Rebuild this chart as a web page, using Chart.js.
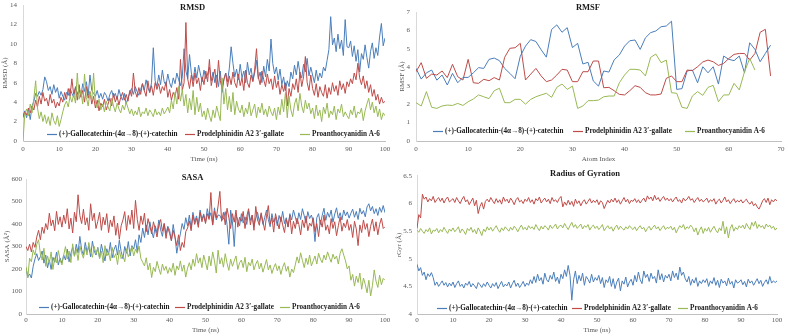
<!DOCTYPE html>
<html>
<head>
<meta charset="utf-8">
<script src="https://cdn.jsdelivr.net/npm/chart.js@4.4.1/dist/chart.umd.min.js"></script>
<style>
  body { margin: 0; background: #fff; width: 789px; height: 336px; overflow: hidden; position: relative; }
  canvas { position: absolute; }
</style>
</head>
<body>
<canvas id="rmsd" width="395" height="168" style="left:0;top:0"></canvas>
<canvas id="rmsf" width="394" height="168" style="left:395px;top:0"></canvas>
<canvas id="sasa" width="395" height="168" style="left:0;top:168px"></canvas>
<canvas id="rgyr" width="396" height="168" style="left:393px;top:168px"></canvas>
<script>
// sampling grids (0-100 ns every 0.5 ns, atoms 0..68)
const timeNs = Array.from({ length: 201 }, (_, i) => i / 2);
const atomIndex = Array.from({ length: 69 }, (_, i) => i);

const seriesNames = [
    "(+)-Gallocatechin-(4α→8)-(+)-catechin",
    "Prodelphinidin A2 3′-gallate",
    "Proanthocyanidin A-6"
];
const seriesColors = ["#4A7EBB", "#BE4B48", "#98B954"];

// RMSD (Å)
const rmsdGallo = [
    2.6, 3.1, 2.4, 3.3, 2.2, 3.6, 4.1, 4.9, 4.6, 5.1, 4.7, 5.3, 6.6, 6.1, 5.2, 5.6, 4.8, 5.8, 5.0, 5.5,
    4.4, 5.1, 4.6, 4.2, 5.0, 4.7, 5.4, 4.9, 4.5, 5.6, 4.8, 5.3, 4.6, 5.9, 5.1, 6.1, 4.7, 6.8, 5.2, 4.9,
    4.6, 5.2, 4.4, 4.9, 4.3, 5.0, 4.7, 4.1, 4.8, 5.2, 4.5, 4.9, 4.3, 5.3, 4.6, 4.2, 4.9, 3.8, 4.4, 5.0,
    5.4, 4.8, 5.6, 5.1, 4.7, 5.3, 5.9, 5.2, 6.3, 5.5, 5.0, 6.0, 9.6, 6.2, 5.6, 6.8, 5.8, 7.3, 6.1, 5.7,
    6.9, 6.0, 5.5, 6.5, 5.9, 7.0, 6.3, 5.7, 6.6, 9.5, 7.2, 6.4, 8.9, 7.0, 6.2, 7.6, 6.5, 7.8, 6.9, 6.1,
    7.3, 6.4, 6.9, 7.6, 6.2, 7.1, 6.0, 6.8, 5.6, 7.2, 5.0, 6.4, 7.0, 6.1, 7.5, 9.7, 8.0, 6.6, 7.4, 6.3,
    7.9, 6.5, 7.2, 6.0, 8.1, 6.8, 7.5, 6.2, 7.0, 8.3, 6.4, 7.1, 6.0, 7.7, 6.6, 8.4, 7.2, 10.5, 8.0, 6.9,
    7.6, 6.3, 7.4, 5.8, 6.6, 5.2, 6.2, 5.6, 7.1, 6.4, 7.8, 6.8, 8.2, 7.0, 6.5, 7.9, 7.1, 8.5, 6.7, 7.6,
    6.8, 6.0, 7.3, 6.2, 7.0, 6.5, 7.6, 7.2, 8.3, 9.4, 12.8, 9.9, 10.6, 9.2, 11.0, 9.5, 10.4, 8.8, 12.5, 9.7,
    9.6, 10.3, 8.7, 9.8, 8.2, 9.4, 7.1, 9.0, 8.4, 9.9, 8.6, 7.5, 9.2, 10.1, 8.5, 9.6, 8.8, 10.7, 12.1, 9.8,
    10.6
];
const rmsdProdel = [
    2.4, 3.0, 2.7, 3.4, 2.9, 3.6, 3.2, 4.2, 3.5, 4.6, 3.8, 5.0, 4.1, 4.4, 3.6, 4.8, 3.9, 4.3, 3.4, 4.0,
    3.6, 4.5, 4.0, 5.0, 4.3, 5.4, 4.6, 6.4, 4.8, 5.5, 4.2, 5.8, 4.5, 5.2, 4.0, 5.6, 4.4, 5.1, 3.8, 4.6,
    3.4, 4.2, 3.1, 3.9, 3.5, 4.3, 3.2, 3.8, 4.4, 3.6, 4.9, 4.0, 4.6, 3.7, 4.5, 5.0, 4.2, 4.8, 4.1, 5.2,
    4.6, 7.0, 5.1, 4.5, 5.5, 4.8, 5.9, 5.2, 4.6, 6.2, 5.0, 5.7, 4.7, 6.0, 5.3, 5.9, 4.9, 5.6, 5.2, 6.1,
    4.5, 5.3, 4.2, 5.0, 4.6, 5.5, 4.3, 8.4, 5.2, 6.0, 12.2, 6.4, 5.4, 6.8, 5.6, 7.0, 5.9, 6.5, 5.2, 6.6,
    5.8, 7.2, 6.1, 8.4, 5.7, 6.6, 7.4, 5.5, 8.3, 6.2, 5.4, 6.3, 7.0, 5.6, 6.7, 5.8, 7.1, 6.0, 5.5, 6.9,
    5.7, 6.5, 5.2, 7.3, 6.0, 5.5, 6.8, 6.1, 7.4, 9.5, 6.6, 5.8, 7.2, 6.3, 5.6, 6.9, 5.9, 6.4, 5.3, 6.7,
    5.5, 6.2, 4.8, 5.8, 5.1, 6.0, 3.6, 5.4, 4.6, 5.9, 5.3, 6.4, 5.0, 7.1, 5.6, 6.6, 8.7, 6.0, 5.2, 6.8,
    5.4, 4.7, 5.9, 4.5, 5.6, 5.0, 4.6, 5.8, 4.4, 5.5, 4.8, 6.0, 5.1, 5.7, 4.7, 6.2, 5.3, 5.9, 4.9, 6.1,
    5.6, 6.4, 5.9, 7.0, 6.3, 8.0, 6.5, 5.8, 6.7, 5.4, 6.2, 5.0, 5.8, 4.6, 5.3, 4.2, 4.8, 3.8, 4.5, 3.9,
    4.1
];
const rmsdProanth = [
    0.0, 2.8, 3.3, 2.6, 3.8, 2.9, 4.4, 6.2, 3.4, 2.3, 3.0, 2.0, 2.7, 1.8, 2.5, 1.6, 2.9, 2.1, 1.7, 2.6,
    1.5, 2.2, 3.0, 3.7, 4.1, 3.5, 4.6, 4.0, 4.8, 3.9, 7.0, 4.3, 5.2, 3.8, 6.9, 4.5, 3.6, 5.0, 4.2, 7.0,
    4.0, 3.4, 4.3, 3.2, 3.8, 3.0, 4.1, 3.5, 3.1, 4.4, 3.6, 3.0, 3.9, 3.3, 2.9, 3.7, 3.2, 4.0, 3.4, 2.8,
    3.3, 2.6, 3.1, 2.7, 3.5, 2.5, 3.0, 2.8, 3.4, 2.6, 3.2, 2.9, 2.5, 3.3, 2.7, 3.0, 2.6, 3.4, 2.8, 3.1,
    3.5, 2.9, 4.2, 3.3, 5.0, 3.8, 5.6, 4.1, 5.3, 3.6, 4.8, 2.9, 4.4, 3.2, 5.2, 2.7, 4.5, 3.0, 3.9, 2.5,
    3.1, 2.2, 3.4, 2.6, 2.0, 3.2, 2.4, 3.6, 2.8, 2.1, 6.5, 3.8, 5.4, 3.2, 4.6, 3.0, 5.0, 2.7, 4.1, 3.3,
    2.9, 3.7, 2.5, 3.4, 2.8, 4.0, 2.6, 3.2, 3.8, 2.4, 3.5, 2.9, 3.9, 2.7, 3.3, 2.5, 3.6, 3.0, 2.6, 3.4,
    2.2, 3.5, 2.7, 4.3, 3.0, 5.0, 2.4, 4.6, 3.2, 2.5, 3.8, 4.4, 3.1, 4.9, 3.6, 2.9, 4.2, 3.3, 3.9, 2.8,
    3.4, 2.3, 3.7, 2.6, 3.2, 2.0, 3.5, 2.8, 3.9, 2.4, 3.1, 2.7, 3.6, 2.2, 3.3, 2.9, 3.8, 2.5, 3.0, 2.6,
    2.3, 3.2, 2.7, 3.6, 2.4, 3.0, 2.8, 3.4, 2.1, 3.1, 3.8, 4.4, 3.2, 4.0, 2.9, 3.6, 2.5, 3.3, 2.2, 2.9,
    2.6
];

// RMSF (Å) per atom
const rmsfGallo = [
    3.94, 3.36, 3.70, 3.85, 3.30, 3.58, 3.04, 3.67, 3.16, 3.45, 3.45, 3.70, 3.98, 3.94, 4.43, 4.50, 4.36,
    3.94, 3.67, 3.38, 4.60, 5.15, 5.50, 5.40, 4.95, 4.55, 6.05, 6.30, 5.90, 6.15, 5.07, 5.30, 4.18, 4.27,
    3.26, 2.98, 3.80, 3.74, 4.40, 4.67, 5.15, 5.44, 5.48, 4.97, 5.60, 5.88, 5.97, 6.20, 6.24, 6.50, 2.80,
    2.84, 3.80, 3.85, 3.16, 4.03, 3.70, 4.03, 3.09, 4.61, 4.43, 4.36, 4.61, 3.70, 5.33, 4.97, 4.30, 4.75,
    5.20
];
const rmsfProdel = [
    3.76, 4.25, 3.40, 3.63, 3.58, 3.80, 3.44, 4.16, 3.49, 3.31, 4.43, 3.16, 3.13, 3.35, 3.27, 3.44, 3.31,
    4.54, 5.03, 5.06, 5.30, 3.31, 3.63, 3.94, 3.53, 3.22, 3.31, 3.58, 3.89, 3.85, 3.22, 3.22, 3.76, 3.76,
    4.34, 4.34, 2.89, 2.91, 2.73, 2.53, 2.50, 2.73, 3.00, 2.91, 2.62, 2.50, 2.50, 2.55, 3.40, 3.53, 3.22,
    3.22, 3.85, 3.82, 4.03, 4.29, 4.39, 4.30, 4.10, 4.21, 4.48, 4.70, 4.75, 4.75, 4.39, 4.75, 5.90, 6.06,
    3.53
];
const rmsfProanth = [
    2.08, 1.90, 2.68, 1.83, 1.77, 1.90, 1.95, 1.93, 2.04, 1.93, 2.13, 2.28, 2.50, 2.40, 2.30, 2.73, 2.86,
    2.08, 2.08, 2.26, 2.26, 2.00, 2.26, 2.40, 2.50, 2.59, 2.37, 2.91, 3.09, 2.80, 2.98, 1.77, 1.90, 2.19,
    2.19, 2.22, 2.40, 2.44, 2.44, 3.16, 3.58, 3.89, 3.89, 3.85, 3.53, 4.54, 4.72, 4.25, 4.39, 2.62, 2.59,
    1.83, 1.77, 2.44, 2.68, 2.48, 2.91, 3.02, 2.13, 2.50, 2.50, 3.13, 2.77, 3.76, 4.48, 3.85
];

// SASA (Å²)
const sasaGallo = [
    205, 165, 178, 160, 212, 245, 268, 238, 255, 280, 226, 262, 205, 240, 198, 252, 230, 275, 218, 248,
    226, 262, 240, 288, 232, 270, 296, 258, 310, 272, 345, 285, 262, 318, 276, 300, 254, 324, 280, 262,
    296, 248, 310, 272, 236, 290, 264, 318, 250, 286, 306, 262, 328, 278, 246, 300, 270, 322, 258, 304,
    288, 330, 276, 352, 318, 382, 340, 396, 352, 410, 368, 338, 392, 360, 418, 374, 345, 402, 356, 390,
    372, 326, 398, 345, 270, 318, 356, 402, 376, 428, 392, 440, 380, 452, 410, 436, 398, 462, 420, 445,
    408, 468, 426, 450, 395, 472, 418, 440, 438, 420, 422, 455, 398, 310, 462, 410, 300, 440, 418, 392,
    446, 404, 432, 398, 458, 416, 438, 388, 426, 452, 410, 444, 398, 430, 462, 420, 388, 446, 408, 430,
    392, 438, 410, 456, 402, 428, 386, 446, 418, 462, 432, 400, 450, 420, 468, 436, 404, 455, 424, 440,
    410, 322, 428, 446, 398, 438, 470, 416, 452, 430, 462, 408, 444, 472, 426, 450, 418, 462, 436, 454,
    426, 448, 466, 430, 456, 420, 470, 444, 460, 432, 476, 490, 458, 478, 446, 468, 438, 474, 452, 482,
    450
];
const sasaProdel = [
    300, 282, 310, 276, 318, 296, 342, 372, 330, 386, 358, 402, 375, 448, 392, 418, 370, 456, 398, 432,
    386, 440, 402, 468, 378, 426, 360, 452, 410, 530, 438, 402, 466, 396, 428, 372, 490, 415, 448, 380,
    412, 452, 372, 430, 396, 446, 362, 418, 388, 436, 350, 404, 332, 392, 418, 455, 372, 438, 398, 462,
    380, 505, 420, 372, 436, 398, 448, 366, 424, 390, 356, 410, 378, 342, 396, 420, 368, 402, 336, 384,
    358, 326, 372, 340, 304, 352, 282, 318, 296, 366, 382, 414, 370, 440, 398, 426, 385, 452, 410, 438,
    402, 446, 420, 540, 396, 458, 426, 480, 545, 412, 452, 396, 470, 428, 380, 446, 408, 462, 386, 430,
    412, 456, 380, 434, 468, 396, 440, 372, 478, 418, 394, 450, 408, 372, 436, 482, 400, 428, 364, 446,
    410, 378, 432, 396, 362, 420, 388, 440, 356, 412, 380, 426, 398, 352, 418, 384, 436, 370, 404, 390,
    428, 366, 402, 344, 418, 386, 440, 372, 396, 356, 424, 380, 410, 348, 392, 432, 368, 404, 384, 420,
    372, 398, 340, 412, 378, 304, 396, 362, 418, 376, 402, 344, 390, 422, 368, 410, 352, 398, 426, 380,
    388
];
const sasaProanth = [
    210, 160, 248, 232, 285, 262, 310, 330, 268, 240, 292, 212, 258, 226, 276, 198, 250, 228, 282, 240,
    218, 262, 300, 244, 280, 228, 312, 256, 290, 238, 302, 270, 248, 296, 262, 318, 276, 252, 300, 268,
    292, 246, 280, 228, 304, 258, 272, 236, 296, 250, 268, 220, 284, 246, 262, 232, 290, 254, 276, 300,
    258, 288, 270, 302, 246, 230, 214, 250, 196, 226, 162, 208, 188, 234, 202, 176, 222, 194, 212, 180,
    206, 186, 226, 172, 214, 196, 236, 190, 218, 164, 204, 228, 196, 244, 212, 268, 226, 250, 206, 262,
    230, 196, 258, 214, 276, 236, 182, 284, 222, 250, 208, 268, 226, 194, 244, 212, 236, 258, 198, 228,
    240, 206, 252, 188, 230, 214, 244, 196, 222, 238, 200, 226, 186, 214, 242, 196, 218, 180, 206, 224,
    192, 214, 176, 208, 228, 190, 212, 164, 200, 184, 218, 254, 226, 272, 238, 206, 248, 220, 262, 214,
    236, 258, 222, 270, 244, 228, 262, 240, 276, 252, 230, 266, 244, 258, 222, 270, 290, 262, 236, 200,
    214, 150, 176, 124, 168, 140, 182, 110, 160, 132, 94, 150, 80, 126, 196, 146, 118, 172, 130, 158,
    150
];

// Radius of gyration (Å)
const rgyrGallo = [
    4.90, 4.78, 4.84, 4.70, 4.76, 4.62, 4.73, 4.68, 4.75, 4.66, 4.52, 4.58, 4.50, 4.55, 4.60, 4.52, 4.57, 4.49, 4.56, 4.51,
    4.58, 4.48, 4.55, 4.60, 4.50, 4.54, 4.47, 4.56, 4.52, 4.59, 4.49, 4.55, 4.51, 4.46, 4.57, 4.53, 4.48, 4.55, 4.50, 4.58,
    4.52, 4.47, 4.55, 4.50, 4.57, 4.46, 4.53, 4.59, 4.49, 4.54, 4.51, 4.58, 4.47, 4.55, 4.61, 4.50, 4.56, 4.48, 4.53, 4.59,
    4.50, 4.56, 4.52, 4.62, 4.55, 4.68, 4.57, 4.72, 4.60, 4.66, 4.54, 4.74, 4.62, 4.58, 4.70, 4.63, 4.76, 4.59, 4.67, 4.55,
    4.72, 4.64, 4.80, 4.68, 4.88, 4.70, 4.25, 4.62, 4.78, 4.55, 4.70, 4.60, 4.74, 4.52, 4.68, 4.63, 4.56, 4.72, 4.58, 4.66,
    4.61, 4.70, 4.55, 4.66, 4.48, 4.62, 4.57, 4.68, 4.50, 4.64, 4.46, 4.58, 4.65, 4.42, 4.60, 4.54, 4.67, 4.49, 4.58, 4.63,
    4.52, 4.70, 4.58, 4.76, 4.62, 4.55, 4.78, 4.66, 4.72, 4.59, 4.74, 4.64, 4.68, 4.56, 4.80, 4.62, 4.73, 4.58, 4.70, 4.65,
    4.72, 4.60, 4.78, 4.66, 4.74, 4.62, 4.85, 4.70, 4.76, 4.64, 4.58, 4.68, 4.52, 4.63, 4.56, 4.66, 4.50, 4.60, 4.55, 4.62,
    4.57, 4.64, 4.50, 4.60, 4.55, 4.66, 4.52, 4.61, 4.48, 4.63, 4.56, 4.60, 4.51, 4.65, 4.54, 4.59, 4.47, 4.62, 4.56, 4.58,
    4.62, 4.53, 4.59, 4.49, 4.63, 4.56, 4.60, 4.52, 4.58, 4.64, 4.55, 4.61, 4.50, 4.57, 4.62, 4.54, 4.68, 4.56, 4.60, 4.57,
    4.60
];
const rgyrProdel = [
    5.55, 5.80, 5.74, 6.17, 6.08, 6.12, 6.03, 6.09, 6.05, 6.13, 6.02, 6.07, 6.11, 6.04, 6.10, 6.01, 6.08, 6.12, 6.03, 6.06,
    6.09, 6.02, 6.11, 6.05, 6.00, 6.08, 6.13, 6.03, 6.07, 5.98, 6.04, 6.10, 5.96, 6.06, 5.82, 5.95, 6.02, 5.90, 6.04, 6.08,
    6.03, 6.11, 6.05, 6.00, 6.09, 6.02, 6.07, 5.99, 6.12, 6.04, 6.08, 6.01, 6.10, 6.05, 5.98, 6.07, 6.11, 6.03, 6.06, 6.00,
    6.08, 6.04, 6.11, 6.02, 6.07, 5.99, 6.09, 6.05, 6.12, 6.01, 6.06, 6.10, 6.03, 6.08, 6.00, 6.11, 6.04, 6.07, 6.02, 6.09,
    6.13, 5.94, 6.03, 5.97, 6.06, 5.98, 6.04, 5.95, 6.08, 6.00, 6.05, 5.96, 6.03, 6.07, 5.99, 6.04, 6.09, 6.01, 6.06, 6.02,
    6.07, 5.98, 6.05, 6.02, 5.91, 5.99, 6.06, 6.01, 6.08, 6.03, 6.10, 6.02, 6.07, 5.99, 6.05, 6.11, 6.03, 6.08, 6.00, 6.06,
    6.04, 6.09, 6.02, 6.07, 6.01, 6.06, 6.10, 6.03, 6.14, 6.08, 6.12, 6.05, 6.15, 6.07, 6.11, 6.04, 6.09, 6.13, 6.06, 6.10,
    6.05, 6.09, 6.03, 6.08, 6.12, 6.04, 6.07, 6.01, 6.10, 6.05, 6.08, 6.13, 6.06, 6.09, 6.02, 6.07, 6.11, 6.04, 6.08, 6.03,
    6.06, 6.10, 6.02, 6.07, 6.04, 6.09, 5.99, 6.05, 6.08, 6.01, 6.06, 6.12, 6.03, 6.07, 6.00, 6.05, 6.09, 6.02, 6.06, 6.03,
    6.07, 6.01, 6.05, 6.08, 6.02, 5.99, 6.04, 5.96, 6.00, 5.94, 5.90, 5.97, 6.05, 6.09, 6.02, 6.10, 5.98, 6.07, 6.03, 6.08,
    6.05
];
const rgyrProanth = [
    5.52, 5.48, 5.55, 5.50, 5.46, 5.53, 5.49, 5.56, 5.45, 5.52, 5.50, 5.55, 5.47, 5.53, 5.49, 5.57, 5.51, 5.46, 5.54, 5.50,
    5.56, 5.49, 5.53, 5.58, 5.47, 5.54, 5.50, 5.44, 5.55, 5.51, 5.57, 5.48, 5.53, 5.45, 5.56, 5.50, 5.42, 5.54, 5.49, 5.58,
    5.52, 5.57, 5.50, 5.55, 5.60, 5.53, 5.48, 5.56, 5.51, 5.58, 5.54, 5.50, 5.57, 5.52, 5.59, 5.55, 5.49, 5.56, 5.61, 5.53,
    5.57, 5.52, 5.60, 5.55, 5.58, 5.53, 5.62, 5.56, 5.51, 5.59, 5.54, 5.60, 5.57, 5.52, 5.61, 5.55, 5.58, 5.63, 5.54, 5.59,
    5.61, 5.56, 5.64, 5.58, 5.53, 5.60, 5.66, 5.57, 5.62, 5.55, 5.59, 5.63, 5.54, 5.60, 5.57, 5.62, 5.52, 5.58, 5.61, 5.55,
    5.59, 5.53, 5.57, 5.62, 5.51, 5.56, 5.60, 5.54, 5.58, 5.50, 5.57, 5.61, 5.53, 5.59, 5.55, 5.52, 5.58, 5.54, 5.60, 5.56,
    5.53, 5.58, 5.51, 5.56, 5.60, 5.54, 5.57, 5.49, 5.55, 5.59, 5.52, 5.57, 5.61, 5.54, 5.58, 5.51, 5.56, 5.60, 5.53, 5.57,
    5.55, 5.59, 5.52, 5.57, 5.47, 5.54, 5.60, 5.56, 5.62, 5.53, 5.58, 5.55, 5.61, 5.57, 5.49, 5.56, 5.43, 5.52, 5.58, 5.46,
    5.55, 5.50, 5.57, 5.48, 5.54, 5.59, 5.52, 5.47, 5.56, 5.51, 5.68, 5.45, 5.58, 5.38, 5.55, 5.62, 5.50, 5.57, 5.53, 5.60,
    5.56, 5.61, 5.54, 5.64, 5.58, 5.53, 5.66, 5.59, 5.68, 5.55, 5.62, 5.57, 5.60, 5.54, 5.63, 5.58, 5.61, 5.55, 5.59, 5.52,
    5.56
];

const SERIF = '"Liberation Serif", "Times New Roman", serif';
const TICK_GREY = "#595959";

// legend drawn inside the plot area, Excel style
const innerLegend = {
    id: "innerLegend",
    afterDatasetsDraw(chart, args, opts) {
        if (!opts.x) return;
        const ctx = chart.ctx;
        ctx.save();
        ctx.font = `bold ${opts.size || 7.2}px ${SERIF}`;
        ctx.textBaseline = "middle";
        ctx.textAlign = "left";
        chart.data.datasets.forEach((ds, i) => {
            const x = opts.x[i];
            ctx.strokeStyle = ds.borderColor;
            ctx.lineWidth = 1.2;
            ctx.beginPath();
            ctx.moveTo(x, opts.y + 0.5);
            ctx.lineTo(x + 10, opts.y + 0.5);
            ctx.stroke();
            ctx.fillStyle = "#1a1a1a";
            ctx.fillText(ds.label, x + 12, opts.y);
        });
        ctx.restore();
    }
};
Chart.register(innerLegend);

function toPoints(xs, ys) {
    return ys.map((v, i) => ({ x: xs[i], y: v }));
}

// Excel shows 4, 4.5, 5 ... not 4.0, 5.0
const plainTick = v => String(Number(v.toFixed(2)));

function makePanel(id, p) {
    return new Chart(document.getElementById(id), {
        type: "line",
        data: {
            datasets: p.series.map((ys, i) => ({
                label: seriesNames[i],
                data: toPoints(p.xs, ys),
                borderColor: seriesColors[i],
                backgroundColor: seriesColors[i],
                borderWidth: 1,
                pointRadius: 0,
                tension: 0,
                fill: false,
                order: 2 - i
            }))
        },
        options: {
            responsive: false,
            animation: false,
            devicePixelRatio: 1,
            layout: { padding: { left: 0, top: 0, right: p.padRight, bottom: 0 } },
            plugins: {
                legend: { display: false },
                tooltip: { enabled: false },
                title: {
                    display: true,
                    text: p.title,
                    color: "#1a1a1a",
                    font: { family: SERIF, size: 8.5, weight: "bold" },
                    padding: p.titlePad
                },
                innerLegend: { x: p.legendX, y: p.legendY }
            },
            scales: {
                x: {
                    type: "linear",
                    min: p.xMin, max: p.xMax,
                    grid: { display: false, drawTicks: false },
                    border: { display: true, color: "#bfbfbf" },
                    ticks: {
                        stepSize: 10, color: TICK_GREY, padding: p.xTickPad,
                        maxRotation: 0, autoSkip: false,
                        font: { family: SERIF, size: 7 },
                        callback: plainTick
                    },
                    title: {
                        display: true, text: p.xTitle, color: TICK_GREY,
                        font: { family: SERIF, size: 7 },
                        padding: { top: 0, bottom: p.xTitlePad }
                    },
                    afterFit: s => {
                        s.height = p.xAxisH;
                        s.paddingLeft = 0;
                        s.paddingRight = 0;
                    }
                },
                y: {
                    min: p.yMin, max: p.yMax,
                    grid: { display: false, drawTicks: false },
                    border: { display: true, color: "#d9d9d9" },
                    ticks: {
                        stepSize: p.yStep, color: TICK_GREY, padding: p.yTickPad,
                        font: { family: SERIF, size: 7 },
                        callback: plainTick
                    },
                    title: {
                        display: true, text: p.yTitle, color: TICK_GREY,
                        font: { family: SERIF, size: 7 },
                        padding: { top: p.yTitlePad, bottom: 0 }
                    },
                    afterFit: s => {
                        s.width = p.yAxisW;
                        s.paddingTop = 0;
                        s.paddingBottom = 0;
                    }
                }
            }
        }
    });
}

makePanel("rmsd", {
    title: "RMSD", titlePad: { top: 3, bottom: -8.2 },
    xs: timeNs, series: [rmsdGallo, rmsdProdel, rmsdProanth],
    xMin: 0, xMax: 100, yMin: 0, yMax: 14, yStep: 2,
    xTitle: "Time (ns)", yTitle: "RMSD (Å)",
    yAxisW: 23, xAxisH: 27, padRight: 10,
    xTickPad: 4, xTitlePad: 5, yTickPad: 6, yTitlePad: 1,
    legendX: [47, 185, 300], legendY: 134
});

makePanel("rmsf", {
    title: "RMSF", titlePad: { top: 3, bottom: -1.2 },
    xs: atomIndex, series: [rmsfGallo, rmsfProdel, rmsfProanth],
    xMin: 0, xMax: 70, yMin: 0, yMax: 7, yStep: 1,
    xTitle: "Atom Index", yTitle: "RMSF (Å)",
    yAxisW: 21, xAxisH: 27, padRight: 8,
    xTickPad: 4, xTitlePad: 5, yTickPad: 6, yTitlePad: 3,
    legendX: [38, 178, 290], legendY: 131
});

makePanel("sasa", {
    title: "SASA", titlePad: { top: 5, bottom: -4.2 },
    xs: timeNs, series: [sasaGallo, sasaProdel, sasaProanth],
    xMin: 0, xMax: 100, yMin: 0, yMax: 600, yStep: 100,
    xTitle: "Time (ns)", yTitle: "SASA (Å²)",
    yAxisW: 26, xAxisH: 22, padRight: 10,
    xTickPad: 2, xTitlePad: 2, yTickPad: 4, yTitlePad: 3,
    legendX: [39, 175, 280], legendY: 139
});

makePanel("rgyr", {
    title: "Radius of Gyration", titlePad: { top: 1, bottom: -3.2 },
    xs: timeNs, series: [rgyrGallo, rgyrProdel, rgyrProanth],
    xMin: 0, xMax: 100, yMin: 4, yMax: 6.5, yStep: 0.5,
    xTitle: "Time (ns)", yTitle: "rGyr (Å)",
    yAxisW: 24, xAxisH: 22, padRight: 12,
    xTickPad: 2, xTitlePad: 2, yTickPad: 5, yTitlePad: 2,
    legendX: [44, 179, 285], legendY: 140
});
</script>
</body>
</html>
